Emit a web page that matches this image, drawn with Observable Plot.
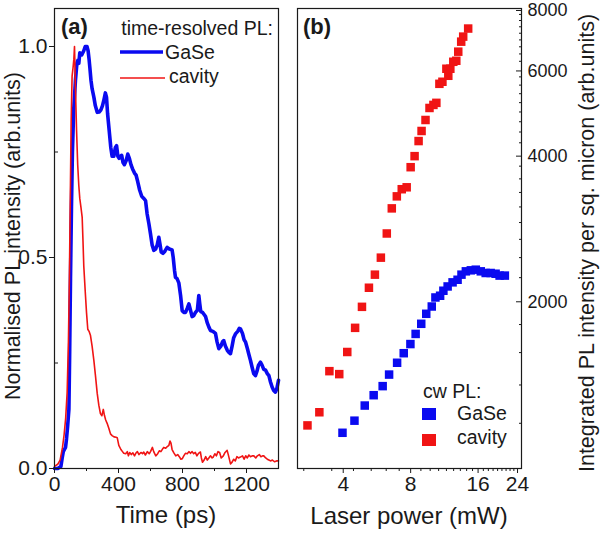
<!DOCTYPE html>
<html><head><meta charset="utf-8">
<script src="https://cdn.jsdelivr.net/npm/d3@7"></script>
<script src="https://cdn.jsdelivr.net/npm/@observablehq/plot@0.6"></script>
<style>
body{margin:0;background:#fff;}
#fig{position:relative;width:600px;height:535px;font-family:"Liberation Sans",Arial,sans-serif;overflow:hidden;}
#fig svg{position:absolute;top:0;}
</style></head><body><div id="fig"></div>
<script>
// ---------- Panel (a): time-resolved PL ----------
const gaseTime = [0,20,40,48,55,62,69,75,82,90,95,100,106,112,120,131,140,146,152,158,170,183,192,203,210,216,221,228,235,246,255,267,280,290,300,308,318,325,332,342,352,360,371,380,388,396,404,412,420,428,437,448,458,468,478,488,500,510,520,532,545,558,569,579,590,600,610,621,632,642,652,660,667,678,690,704,718,735,742,750,756,766,777,788,798,808,819,830,840,850,860,870,881,893,902,908,914,925,935,944,955,965,975,990,1006,1016,1027,1040,1050,1058,1068,1080,1090,1100,1110,1120,1131,1145,1155,1162,1175,1185,1194,1205,1215,1225,1235,1245,1256,1265,1275,1287,1297,1308,1319,1330,1340,1350,1360,1370,1381,1390,1400];
const gasePL = [0,0,0.005,0.025,0.04,0.045,0.05,0.07,0.1,0.14,0.28,0.45,0.62,0.75,0.85,0.92,0.96,0.967,0.96,0.985,0.98,0.99,1.0,1.0,0.99,0.97,0.95,0.92,0.9,0.88,0.86,0.844,0.845,0.85,0.86,0.872,0.89,0.88,0.84,0.8,0.76,0.74,0.74,0.76,0.765,0.74,0.735,0.74,0.742,0.725,0.72,0.73,0.745,0.735,0.72,0.71,0.7,0.695,0.68,0.66,0.645,0.64,0.635,0.603,0.58,0.556,0.53,0.517,0.52,0.53,0.548,0.53,0.513,0.51,0.515,0.524,0.52,0.518,0.5,0.47,0.453,0.45,0.44,0.41,0.374,0.37,0.37,0.38,0.39,0.375,0.36,0.362,0.37,0.375,0.41,0.39,0.372,0.37,0.365,0.36,0.345,0.335,0.327,0.325,0.32,0.3,0.284,0.29,0.3,0.303,0.29,0.28,0.275,0.272,0.29,0.31,0.319,0.325,0.332,0.331,0.32,0.305,0.3,0.285,0.27,0.256,0.24,0.225,0.22,0.23,0.245,0.252,0.245,0.235,0.233,0.225,0.22,0.205,0.193,0.185,0.181,0.19,0.209];

const cavityTime = [0,20,35,50,60,70,79,87,93,99,104,110,116,121,125,131,138,145,152,158,165,173,178,183,192,200,208,216,225,235,246,256,267,277,287,296,305,312,320,329,340,350,360,372,385,392,402,415,425,433,445,455,462,470,480,490,500,508,518,528,540,550,558,568,580,592,600,612,620,633,645,655,665,675,683,695,705,715,722,728,735,746,758,770,780,790,798,808,818,830,840,850,860,870,880,890,900,912,918,925,935,945,955,965,975,985,992,1002,1012,1022,1032,1042,1055,1066,1079,1088,1100,1110,1120,1130,1140,1150,1162,1175,1185,1195,1205,1215,1225,1235,1246,1258,1268,1280,1290,1300,1308,1320,1330,1340,1350,1362,1375,1388,1400];
const cavityPL = [0.005,0.01,0.02,0.05,0.08,0.12,0.18,0.3,0.45,0.65,0.82,0.93,0.95,0.97,1.0,0.9,0.8,0.72,0.67,0.64,0.62,0.595,0.54,0.48,0.42,0.37,0.33,0.325,0.315,0.29,0.256,0.22,0.178,0.15,0.13,0.125,0.14,0.126,0.115,0.107,0.095,0.082,0.078,0.075,0.074,0.073,0.055,0.045,0.04,0.036,0.035,0.04,0.03,0.038,0.033,0.037,0.03,0.036,0.04,0.033,0.038,0.035,0.039,0.032,0.04,0.035,0.04,0.05,0.04,0.03,0.035,0.042,0.04,0.046,0.05,0.048,0.052,0.055,0.065,0.06,0.045,0.037,0.03,0.033,0.028,0.022,0.023,0.03,0.036,0.035,0.04,0.036,0.04,0.035,0.038,0.03,0.036,0.039,0.025,0.015,0.02,0.028,0.02,0.025,0.03,0.025,0.027,0.035,0.03,0.04,0.038,0.025,0.03,0.038,0.043,0.03,0.011,0.015,0.022,0.018,0.028,0.025,0.027,0.03,0.022,0.03,0.025,0.032,0.028,0.03,0.03,0.025,0.03,0.033,0.028,0.03,0.03,0.025,0.022,0.02,0.018,0.02,0.016,0.018,0.018];

const timeMajorTicks = [0,400,800,1200];
const timeMinorTicks = [200,600,1000];
const plMajorTicks = [0,0.5,1.0];
const plMinorTicks = [0.25,0.75];

// ---------- Panel (b): cw PL vs laser power ----------
const powerGaSe = [3.97,4.49,4.99,5.47,6.00,6.41,6.96,7.45,7.98,8.42,8.92,9.39,9.94,10.32,10.83,11.20,11.70,12.31,12.96,13.49,14.11,14.85,15.63,16.45,17.30,18.21,19.16,19.96,21.07];
const cwGaSe = [1062,1125,1209,1270,1326,1401,1482,1551,1620,1700,1784,1871,1937,2022,2039,2088,2131,2173,2200,2254,2290,2301,2308,2290,2272,2272,2264,2244,2244];
const powerCavity = [2.77,3.13,3.47,3.84,4.17,4.52,4.85,5.21,5.54,5.89,6.26,6.59,6.94,7.30,7.68,8.00,8.33,8.68,8.95,9.32,9.71,10.11,10.42,10.75,11.09,11.55,11.78,12.03,12.40,12.79,13.05,13.45,13.73,14.45];
const cwCavity = [1100,1171,1424,1404,1560,1750,1934,2118,2254,2444,2742,3090,3272,3385,3416,3759,3962,4257,4466,4706,4983,5056,5106,5590,5645,6006,5808,6006,6208,6238,6514,6832,6998,7272];

const powerMajorTicks = [4,8,16,24];
const powerMinorTicks = d3.range(3, 28).map(k => k * 8 / 9).filter(v => v > 2.5 && ![8,16,24].includes(Math.round(v*1000)/1000));
const cwMajorTicks = [2000,4000,6000,8000];
const cwMinorTicks = d3.range(5, 36).map(k => k * 2000 / 9).filter(v => v > 900 && Math.abs(v % 2000) > 1 && Math.abs(v % 2000 - 2000) > 1);

const BLUE = "#0a0af0", RED = "#f01414", INK = "#1a1a1a";
const FONT = "'Liberation Sans', Arial, Helvetica, sans-serif";

const gase = gaseTime.map((t, i) => ({t, v: gasePL[i]}));
const cavity = cavityTime.map((t, i) => ({t, v: cavityPL[i]}));
const cwG = powerGaSe.map((p, i) => ({p, v: cwGaSe[i]}));
const cwC = powerCavity.map((p, i) => ({p, v: cwCavity[i]}));

const fig = document.getElementById("fig");

const plotA = Plot.plot({
  width: 290, height: 535,
  marginLeft: 54, marginRight: 12, marginTop: 8, marginBottom: 67,
  style: {fontFamily: FONT, background: "transparent", color: INK},
  x: {domain: [0, 1400]},
  y: {domain: [0, 460/422]},
  marks: [
    Plot.line(gase, {x: "t", y: "v", stroke: BLUE, strokeWidth: 3.6, strokeLinejoin: "round"}),
    Plot.line(cavity, {x: "t", y: "v", stroke: RED, strokeWidth: 1.6, strokeLinejoin: "round"}),
    Plot.frame({stroke: INK, strokeWidth: 1.2}),
    Plot.axisX({ticks: timeMajorTicks, tickSize: 5, tickPadding: 3, fontSize: 21, tickFormat: d => String(d), label: null, stroke: INK}),
    Plot.axisX({ticks: timeMinorTicks, tickSize: 3, tickFormat: () => "", label: null, stroke: INK}),
    Plot.axisY({ticks: plMajorTicks, tickSize: 5, tickPadding: 2, fontSize: 21, tickFormat: d3.format(".1f"), label: null, stroke: INK}),
    Plot.axisY({ticks: plMinorTicks, tickSize: -4, tickFormat: () => "", label: null, stroke: INK})
  ]
});
plotA.style.left = "0px";
fig.appendChild(plotA);

const plotB = Plot.plot({
  width: 310, height: 535,
  marginLeft: 7, marginRight: 79, marginTop: 8, marginBottom: 67,
  style: {fontFamily: FONT, background: "transparent", color: INK},
  x: {type: "log", base: 2, domain: [2.5, 25]},
  y: {type: "log", domain: [896, 8000]},
  marks: [
    Plot.dot(cwG, {x: "p", y: "v", symbol: "square", r: 4.8, fill: BLUE, stroke: "none"}),
    Plot.dot(cwC, {x: "p", y: "v", symbol: "square", r: 4.8, fill: RED, stroke: "none"}),
    Plot.frame({stroke: INK, strokeWidth: 1.2}),
    Plot.axisX({ticks: powerMajorTicks, tickSize: 5, tickPadding: 3, fontSize: 21, tickFormat: d => String(d), label: null, stroke: INK}),
    Plot.axisX({ticks: powerMinorTicks, tickSize: 3, tickFormat: () => "", label: null, stroke: INK}),
    Plot.axisY({anchor: "right", ticks: cwMajorTicks, tickSize: -6, tickPadding: 12, fontSize: 18, dy: 2, tickFormat: d => String(d), label: null, stroke: INK}),
    Plot.axisY({anchor: "right", ticks: cwMinorTicks, tickSize: -3, tickFormat: () => "", label: null, stroke: INK})
  ]
});
plotB.style.left = "290px";
fig.appendChild(plotB);

// ---------- titles, panel labels and legends ----------
const ov = d3.select(fig).append("svg")
  .attr("width", 600).attr("height", 535)
  .style("left", "0px").style("pointer-events", "none")
  .attr("font-family", FONT).attr("fill", INK);

ov.append("text").attr("x", 166).attr("y", 523).attr("text-anchor", "middle").attr("font-size", 24).text("Time (ps)");
ov.append("text").attr("x", 409).attr("y", 524).attr("text-anchor", "middle").attr("font-size", 24).text("Laser power (mW)");
ov.append("text").attr("transform", "translate(20,236) rotate(-90)").attr("text-anchor", "middle").attr("font-size", 21.5).text("Normalised PL intensity (arb.units)");
ov.append("text").attr("transform", "translate(594,243) rotate(-90)").attr("text-anchor", "middle").attr("font-size", 21.5).text("Integrated PL intensity per sq. micron (arb.units)");

ov.append("text").attr("x", 61).attr("y", 34).attr("font-size", 22).attr("font-weight", "bold").text("(a)");
ov.append("text").attr("x", 303).attr("y", 34).attr("font-size", 22).attr("font-weight", "bold").text("(b)");

// legend (a)
ov.append("text").attr("x", 273).attr("y", 35).attr("text-anchor", "end").attr("font-size", 19.5).text("time-resolved PL:");
ov.append("line").attr("x1", 120).attr("x2", 163).attr("y1", 52).attr("y2", 52).attr("stroke", BLUE).attr("stroke-width", 3.6);
ov.append("text").attr("x", 165).attr("y", 59).attr("font-size", 19.5).text("GaSe");
ov.append("line").attr("x1", 120).attr("x2", 165).attr("y1", 78).attr("y2", 78).attr("stroke", RED).attr("stroke-width", 1.6);
ov.append("text").attr("x", 169).attr("y", 83).attr("font-size", 19.5).text("cavity");

// legend (b)
ov.append("text").attr("x", 423).attr("y", 398).attr("font-size", 19.5).text("cw PL:");
ov.append("rect").attr("x", 422).attr("y", 408).attr("width", 14).attr("height", 12).attr("fill", BLUE);
ov.append("text").attr("x", 457).attr("y", 420).attr("font-size", 19.5).text("GaSe");
ov.append("rect").attr("x", 422).attr("y", 434).attr("width", 14).attr("height", 12).attr("fill", RED);
ov.append("text").attr("x", 457).attr("y", 444).attr("font-size", 19.5).text("cavity");
</script></body></html>
